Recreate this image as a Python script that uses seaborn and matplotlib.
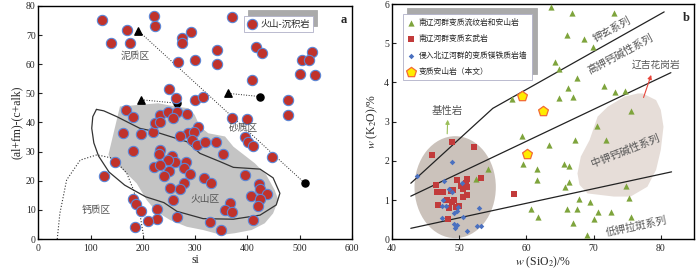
import numpy as np
import matplotlib
matplotlib.use("Agg")
import matplotlib.pyplot as plt
from matplotlib.patches import Polygon, Ellipse
import seaborn as sns

# ---- panel a: si vs (al+fm)-(c+alk) -----------------------------------------
si = [121, 221, 223, 170, 138, 175, 370, 292, 274, 275, 341, 299, 341, 267, 417,
      427, 523, 505, 518, 501, 529, 409, 250, 299, 314, 263, 478, 478, 370, 400,
      167, 181, 232, 248, 266, 285, 306, 162, 197, 220, 223, 232, 258, 287, 298,
      271, 395, 401, 410,
      293, 303, 318, 339, 353, 446, 180, 232, 231, 255, 261, 248, 283, 221, 232,
      250, 240, 279, 290, 146, 125, 317, 330, 278, 252, 271, 257, 422, 424, 438,
      406, 424, 421, 366, 357, 370, 411, 328, 350, 266, 226, 226, 210, 180, 187,
      196, 185, 395]
alfm = [75.3, 76.4, 73.0, 71.6, 67.2, 67.2, 76.2, 71.2, 69.0, 67.2, 65.0, 61.5,
        60.0, 60.6, 65.9, 63.8, 64.2, 61.3, 61.5, 56.6, 56.4, 54.6, 51.4, 47.8,
        48.7, 48.3, 47.8, 42.6, 41.5, 41.2,
        44.3, 42.0, 42.6, 43.7, 43.7, 43.0, 38.6, 36.3, 36.1, 36.9, 39.8, 40.0,
        41.5, 36.3, 36.9, 35.2, 34.9, 33.4, 32.1,
        34.0, 32.3, 33.2, 33.4, 29.1, 28.3, 30.2, 30.6, 29.2, 28.5, 26.6, 27.1,
        26.4, 24.6, 25.4, 23.5, 21.6, 24.3, 22.2, 26.4, 21.8, 20.9, 19.1, 19.1,
        17.6, 17.1, 13.4, 18.8, 17.1, 15.5, 14.8, 13.7, 11.3, 12.3, 10.0, 9.4,
        6.5, 6.0, 3.1, 7.5, 10.2, 6.8, 6.3, 13.6, 12.0, 9.6, 4.2, 22.0]

# trend lines: triangle start -> circle end
tri_si = [191, 197, 363]
tri_v = [71.5, 47.8, 50.0]
end_si = [510, 266, 424]
end_v = [19.1, 46.6, 48.9]

# shaded field of the samples
field_si = [156, 229, 262, 287, 299, 309, 325, 357, 373, 414, 436, 452, 459, 449,
            433, 408, 376, 350, 315, 284, 252, 226, 207, 188, 162, 137, 134]
field_v = [45.5, 46.6, 45.5, 44.9, 42.6, 38.6, 36.3, 35.2, 31.7, 26.0, 22.0, 16.8,
           13.4, 8.8, 5.4, 3.1, 2.0, 1.4, 3.1, 4.2, 6.5, 9.4, 13.4, 19.1, 23.7,
           27.7, 29.0]

# volcanic zone (solid) and calcareous zone (dotted) boundaries
volc_si = [111, 104, 102, 106, 115, 135, 165, 205, 240, 265, 315, 373, 424, 455,
           462, 449, 424, 373, 347, 309, 284, 252, 220, 194, 150, 125, 111]
volc_v = [44.5, 42.0, 38.0, 33.0, 28.5, 23.0, 18.5, 14.5, 12.5, 9.5, 7.0, 6.8, 8.2,
          11.7, 15.7, 21.0, 24.0, 24.6, 26.6, 29.4, 33.4, 35.2, 37.0, 38.0, 42.0,
          44.0, 44.5]
calc_si = [36, 41, 54, 80, 112, 143, 169, 182, 194, 202]
calc_v = [0, 8.8, 20.3, 27.1, 28.9, 27.7, 22.6, 16.8, 8.8, 0]

zone_names = ["泥质区", "砂质区", "火山区", "钙质区"]
zone_si = [185, 392, 318, 111]
zone_v = [62.7, 38.2, 13.7, 10.0]

# ---- panel b: SiO2 vs K2O ----------------------------------------------------
rhy_sio2 = [54.3, 52.5, 57.9, 59.3, 59.5, 61.6, 61.6, 60.7, 61.7, 63.7, 66.8, 73.0,
            66.0, 68.6, 69.9, 64.2, 64.9, 67.5, 66.2, 64.8, 67.0, 71.5, 73.2, 74.7,
            75.6, 70.5, 71.9, 63.3, 67.3, 65.6, 66.3, 66.3, 65.7, 74.8, 67.9, 69.4,
            75.2, 66.1, 67.6, 70.7, 72.6, 70.1, 75.6, 66.9, 69.0]
rhy_k2o = [1.80, 1.53, 3.57, 2.64, 1.92, 1.79, 1.50, 0.78, 0.58, 5.92, 5.78, 5.78,
           5.21, 5.10, 4.91, 4.53, 4.34, 4.12, 3.85, 3.60, 3.63, 3.92, 3.75, 3.77,
           3.26, 2.89, 2.53, 2.41, 2.53, 1.92, 1.87, 1.47, 1.34, 1.37, 1.02, 0.96,
           1.05, 0.77, 0.77, 0.69, 0.69, 0.53, 0.58, 0.42, 0.11]
bas_sio2 = [48.9, 45.9, 52.2, 49.6, 51.1, 51.0, 53.2, 46.6, 49.1, 50.3, 50.5, 51.2,
            48.8, 46.7, 47.6, 51.1, 50.5, 48.2, 49.3, 49.0, 46.8, 48.5, 49.5, 49.9,
            48.4, 58.2]
bas_k2o = [2.47, 2.14, 2.35, 1.50, 1.55, 1.44, 1.56, 1.38, 1.26, 1.36, 1.28, 1.33,
           1.23, 1.21, 1.21, 1.13, 1.07, 1.01, 1.00, 0.96, 0.87, 0.81, 0.83, 0.85,
           0.51, 1.15]
dyke_sio2 = [43.7, 48.9, 47.7, 48.5, 48.9, 50.4, 47.6, 47.4, 48.0, 49.8, 49.6, 49.3,
             53.0, 47.4, 50.5, 49.3, 49.7, 49.4, 51.2, 52.6, 53.2]
dyke_k2o = [1.61, 1.96, 1.49, 1.28, 1.21, 1.43, 1.00, 0.85, 0.85, 0.83, 0.73, 0.66,
            0.81, 0.55, 0.56, 0.39, 0.36, 0.30, 0.21, 0.35, 0.34]
and_sio2 = [59.3, 62.4, 60.1]
and_k2o = [3.66, 3.27, 2.17]

series_labels = ["南辽河群变质流纹岩和安山岩", "南辽河群变质玄武岩",
                 "侵入北辽河群的变质镁铁质岩墙", "变质安山岩（本文）"]

# series boundaries
sho_x, sho_y = [42.8, 55.0, 80.5], [1.43, 3.34, 5.80]
hik_x, hik_y = [42.8, 81.5], [1.10, 4.25]
lok_x, lok_y = [42.8, 81.6], [0.28, 1.72]

# Liaoji granite field
gran_x = [77.3, 79.3, 80.0, 80.4, 80.0, 79.3, 78.0, 75.5, 73.0, 69.1, 67.9, 67.6,
          68.1, 69.4, 70.6, 72.1, 74.6, 76.6]
gran_y = [3.72, 3.55, 3.30, 2.87, 2.28, 1.77, 1.34, 1.09, 1.09, 1.17, 1.39, 1.68,
          2.11, 2.53, 3.13, 3.38, 3.64, 3.72]

series_names = ["钾玄系列", "高钾钙碱性系列", "中钾钙碱性系列", "低钾拉斑系列"]
name_x = [72.8, 74.0, 74.7, 76.3]
name_y = [5.36, 4.72, 2.26, 0.32]
name_rot = [28.5, 28.3, 21.5, 12]

# ---- style -------------------------------------------------------------------
sns.set_style("white")
plt.rcParams["font.family"] = ["Liberation Serif", "Noto Sans CJK SC"]
plt.rcParams["mathtext.fontset"] = "stix"
plt.rcParams["xtick.direction"] = "in"
plt.rcParams["ytick.direction"] = "in"
plt.rcParams["xtick.bottom"] = True
plt.rcParams["ytick.left"] = True
plt.rcParams["axes.edgecolor"] = "black"
plt.rcParams["axes.linewidth"] = 1.0

CJK = ["Noto Sans CJK SC", "Liberation Serif"]
GREY_TXT = "#555555"

fig = plt.figure(figsize=(7.0, 2.71), dpi=100)
ax1 = fig.add_axes([0.0549, 0.118, 0.448, 0.860])
ax2 = fig.add_axes([0.560, 0.117, 0.432, 0.868])

# ---- panel a -----------------------------------------------------------------
ax1.add_patch(Polygon(np.column_stack([field_si, field_v]), closed=True,
                      facecolor="#c4c4c4", edgecolor="none", zorder=0))
ax1.plot(volc_si, volc_v, color="#333333", lw=0.9, zorder=1)
ax1.plot(calc_si, calc_v, color="#333333", lw=0.8, ls=":", zorder=1)
for x0, y0, x1, y1 in zip(tri_si, tri_v, end_si, end_v):
    ax1.plot([x0, x1], [y0, y1], color="#222222", lw=0.7, ls=":", zorder=2)
ax1.scatter(tri_si, tri_v, marker="^", s=28, color="black", zorder=3)
ax1.scatter(end_si, end_v, marker="o", s=26, color="black", zorder=3)

sns.scatterplot(x=si, y=alfm, ax=ax1, s=55, color="#c0322b", edgecolor="#5b86d6",
                linewidth=0.8, label="火山-沉积岩", zorder=4)

for name, x, y in zip(zone_names, zone_si, zone_v):
    ax1.text(x, y, name, fontsize=7, color=GREY_TXT, ha="center", va="center",
             family=CJK, zorder=5)

ax1.set_xlim(0, 600)
ax1.set_ylim(0, 80)
ax1.set_xticks(range(0, 601, 100))
ax1.set_yticks(range(0, 81, 10))
ax1.tick_params(labelsize=7, length=3, width=0.8, pad=2)
ax1.tick_params(axis="x", pad=3.5)
ax1.set_xlabel("si", fontsize=8.5, labelpad=1)
ax1.set_ylabel("(al+fm)-(c+alk)", fontsize=8.5, labelpad=2)
ax1.text(0.985, 0.965, "a", transform=ax1.transAxes, fontsize=9,
         fontweight="bold", ha="right", va="top")
leg1 = ax1.legend(loc="upper left", bbox_to_anchor=(0.655, 0.955),
                  prop={"family": CJK, "size": 6.7}, frameon=True, fancybox=False,
                  borderpad=0.35, handletextpad=0.4, handlelength=1.0,
                  borderaxespad=0,
                  shadow={"ox": 3.2, "oy": 4.5, "facecolor": "#aaaaaa",
                          "edgecolor": "#aaaaaa", "alpha": 1})
leg1.get_frame().set_edgecolor("#b0b0c8")
leg1.get_frame().set_linewidth(0.6)

# ---- panel b -----------------------------------------------------------------
ax2.add_patch(Ellipse((49.4, 1.33), 12.1, 2.6, facecolor="#cbc2bb",
                      edgecolor="none", zorder=0))
ax2.add_patch(Polygon(np.column_stack([gran_x, gran_y]), closed=True,
                      facecolor="#e6ddd8", edgecolor="none", zorder=0))
for lx, ly in [(sho_x, sho_y), (hik_x, hik_y), (lok_x, lok_y)]:
    ax2.plot(lx, ly, color="#222222", lw=0.9, zorder=1)

sns.scatterplot(x=rhy_sio2, y=rhy_k2o, ax=ax2, marker="^", s=20, color="#7ea43c",
                linewidth=0, label=series_labels[0], zorder=3)
sns.scatterplot(x=bas_sio2, y=bas_k2o, ax=ax2, marker="s", s=17, color="#c23b3b",
                linewidth=0, label=series_labels[1], zorder=3)
sns.scatterplot(x=dyke_sio2, y=dyke_k2o, ax=ax2, marker="D", s=8, color="#4a70c0",
                linewidth=0, label=series_labels[2], zorder=3)
sns.scatterplot(x=and_sio2, y=and_k2o, ax=ax2, marker="p", s=55, color="#ffec00",
                edgecolor="#f26a35", linewidth=0.9, label=series_labels[3],
                zorder=4)

for name, x, y, r in zip(series_names, name_x, name_y, name_rot):
    ax2.text(x, y, name, fontsize=7.5, color=GREY_TXT, rotation=r,
             rotation_mode="anchor", ha="center", va="center", family=CJK)
ax2.text(48.2, 3.27, "基性岩", fontsize=7.5, color=GREY_TXT, ha="center",
         va="center", family=CJK)
ax2.annotate("", xy=(48.3, 3.12), xytext=(48.2, 2.62),
             arrowprops=dict(arrowstyle="-|>", color="#9bbf5a", lw=0.8,
                             mutation_scale=6))
ax2.text(79.3, 4.46, "辽吉花岗岩", fontsize=7, color=GREY_TXT, ha="center",
         va="center", family=CJK)
ax2.annotate("", xy=(78.7, 4.26), xytext=(77.3, 3.55),
             arrowprops=dict(arrowstyle="-|>", color="#e8453a", lw=0.8,
                             mutation_scale=6))

ax2.set_xlim(40, 85)
ax2.set_ylim(0, 6)
ax2.set_xticks(range(40, 81, 10))
ax2.set_yticks(range(0, 7, 1))
ax2.tick_params(labelsize=7, length=3, width=0.8, pad=2)
ax2.tick_params(axis="x", pad=3.5)
ax2.set_xlabel("$w$ (SiO$_2$)/%", fontsize=8.5, labelpad=1)
ax2.set_ylabel("$w$ (K$_2$O)/%", fontsize=8.5, labelpad=3)
ax2.text(0.985, 0.965, "b", transform=ax2.transAxes, fontsize=9,
         fontweight="bold", ha="right", va="top")
leg2 = ax2.legend(loc="upper left", bbox_to_anchor=(0.035, 0.957),
                  prop={"family": CJK, "size": 5.6}, frameon=True, fancybox=False,
                  borderpad=0.6, labelspacing=1.05, handletextpad=0.5,
                  handlelength=1.0, borderaxespad=0,
                  shadow={"ox": 3.3, "oy": 4.3, "facecolor": "#aaaaaa",
                          "edgecolor": "#aaaaaa", "alpha": 1})
leg2.get_frame().set_edgecolor("#b0b0c8")
leg2.get_frame().set_linewidth(0.6)

fig.savefig("out.png", dpi=100)
